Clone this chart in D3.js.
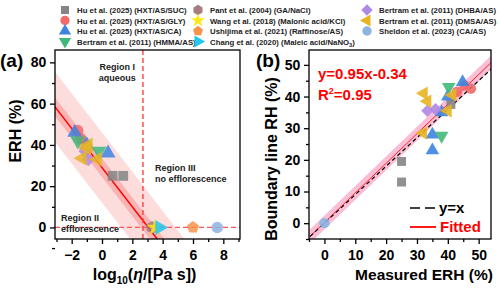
<!DOCTYPE html>
<html>
<head>
<meta charset="utf-8">
<script src="https://cdn.jsdelivr.net/npm/d3@7"></script>
<style>
  body { margin: 0; background: #fff; }
  text { font-family: "Liberation Sans", Arial, sans-serif; font-weight: bold; }
</style>
</head>
<body>
<div id="main"></div>
<script>
// series names / legend
const seriesNames = [
  'Hu et al. (2025) (HXT/AS/SUC)', 'Hu et al. (2025) (HXT/AS/GLY)', 'Hu et al. (2025) (HXT/AS/CA)',
  'Bertram et al. (2011) (HMMA/AS)', 'Pant et al. (2004) (GA/NaCl)', 'Wang et al. (2018) (Malonic acid/KCl)',
  'Ushijima et al. (2021) (Raffinose/AS)', 'Chang et al. (2020) (Maleic acid/NaNO', 'Bertram et al. (2011) (DHBA/AS)',
  'Bertram et al. (2011) (DMSA/AS)', 'Sheldon et al. (2023) (CA/AS)'
];
const seriesColors = ['#858585', '#f26a6a', '#3d84e0', '#3fb97a', '#a67c7c', '#ffe812',
  '#f7944c', '#22c6f0', '#b088e6', '#e8b425', '#8db3e2'];
const seriesShapes = ['square', 'circle', 'up', 'down', 'hexagon', 'star', 'pentagon', 'right', 'diamond', 'left', 'circle'];

// panel (a): log10 viscosity vs ERH, per series
const aX = [
  [0.7, 1.4], [-1.6, -1.4], [-1.8, -1.0, 0.4], [-1.6, -0.2], [3.3], [3.5], [6.0], [3.8],
  [-0.9, -1.1], [-1.3, -0.9, -0.3, -1.0], [7.6]
];
const aY = [
  [25, 25], [47, 43], [46, 40, 36], [42, 37], [0], [0], [0], [0],
  [33, 37], [33.5, 40, 33, 38.5], [0]
];
// panel (b): measured ERH vs boundary line RH
const bX = [
  [25, 25, 41], [45.5, 47.5, 43], [44.8, 40, 38, 35, 35], [40.3, 38], [], [], [], [],
  [33.4, 36], [32.2, 33.4, 32, 40, 41.5], [0]
];
const bY = [
  [19.5, 13, 37.5], [43.5, 42.5, 41.5], [44.6, 40, 35, 28, 23], [43, 27.6], [], [], [], [],
  [35.5, 36], [41, 38.5, 28.5, 35.5, 40.5], [0]
];

// fitted lines as drawn in the picture
const fitA = { slope: -9.5, intercept: 29 };
const fitAConf = 4.5, fitAPred = 17;
const fitB = { slope: 0.935, intercept: 0.2 };
const fitBConf = 2.2;
const refB = { slope: 0.9, intercept: 0 };

const aXTicks = [-2, 0, 2, 4, 6, 8];
const aYTicks = [0, 20, 40, 60, 80];
const bTicks = [0, 10, 20, 30, 40, 50];

const W = 500, H = 288;
const svg = d3.select('#main').append('svg').attr('width', W).attr('height', H);

function shapePath(shape, size) {
  const r = size;
  if (shape === 'square') return d3.symbol(d3.symbolSquare, r * r * 0.8)();
  if (shape === 'circle') return d3.symbol(d3.symbolCircle, r * r * 0.85)();
  if (shape === 'diamond') return d3.symbol(d3.symbolSquare, r * r * 0.8)();
  if (shape === 'star') return d3.symbol(d3.symbolStar, r * r * 0.75)();
  if (['up', 'down', 'left', 'right'].includes(shape)) return d3.symbol(d3.symbolTriangle, r * r * 0.8)();
  const n = shape === 'hexagon' ? 6 : 5;
  const rr = r * 0.58;
  const pts = d3.range(n).map(i => {
    const a = -Math.PI / 2 + i * 2 * Math.PI / n;
    return [rr * Math.cos(a), rr * Math.sin(a)];
  });
  return 'M' + pts.join('L') + 'Z';
}
const shapeRot = { down: 180, left: -90, right: 90, diamond: 45 };

function marker(g, i, x, y, size, op) {
  const s = seriesShapes[i];
  g.append('path')
    .attr('d', shapePath(s, size))
    .attr('transform', `translate(${x},${y}) rotate(${shapeRot[s] || 0})`)
    .attr('fill', seriesColors[i])
    .attr('opacity', op);
}

function axes(g, x, y, xt, yt, xMinor, yMinor, w, h) {
  const fmt = d => d < 0 ? '\u2212' + Math.abs(d) : d;
  const xa = g.append('g').attr('transform', `translate(0,${h})`)
    .call(d3.axisBottom(x).tickValues(xt).tickSize(5).tickSizeOuter(0).tickFormat(fmt));
  g.append('g').attr('transform', `translate(0,${h})`)
    .call(d3.axisBottom(x).tickValues(xMinor).tickSize(3).tickSizeOuter(0).tickFormat(''))
    .select('.domain').remove();
  const ya = g.append('g')
    .call(d3.axisLeft(y).tickValues(yt).tickSize(5).tickSizeOuter(0).tickFormat(fmt));
  g.append('g')
    .call(d3.axisLeft(y).tickValues(yMinor).tickSize(3).tickSizeOuter(0).tickFormat(''))
    .select('.domain').remove();
  g.selectAll('.tick line').attr('stroke', '#000').attr('stroke-width', 1.3);
  g.selectAll('.domain').remove();
  [xa, ya].forEach(a => a.selectAll('text').attr('font-size', 14).attr('fill', '#000')
    .style('font-family', '"Liberation Sans", Arial, sans-serif').style('font-weight', 'bold'));
  xa.selectAll('text').attr('dy', '0.9em');
  ya.selectAll('text').attr('dx', '-0.05em');
  g.append('rect').attr('width', w).attr('height', h)
    .attr('fill', 'none').attr('stroke', '#000').attr('stroke-width', 1.3);
}

// ---------------- panel (a)
const aL = 55, aT = 50, aW = 185, aH = 189;
const ga = svg.append('g').attr('transform', `translate(${aL},${aT})`);
const xa = d3.scaleLinear().domain([-3.1, 9.1]).range([0, aW]);
const ya = d3.scaleLinear().domain([-5.6, 86]).range([aH, 0]);
const clipA = svg.append('clipPath').attr('id', 'clipA');
clipA.append('rect').attr('width', aW).attr('height', aH);
const pa = ga.append('g').attr('clip-path', 'url(#clipA)');

const fa = v => fitA.slope * v + fitA.intercept;
const bandArea = (x, y, f, hw) => d3.area().x(d => x(d)).y0(d => y(f(d) - hw)).y1(d => y(f(d) + hw));
const aDom = xa.domain();
pa.append('path').datum(aDom).attr('d', bandArea(xa, ya, fa, fitAPred)).attr('fill', '#fdd6d6').attr('opacity', 0.85);
pa.append('path').datum(aDom).attr('d', bandArea(xa, ya, fa, fitAConf)).attr('fill', '#f9a9a9').attr('opacity', 0.8);
pa.append('line').attr('x1', xa(aDom[0])).attr('y1', ya(fa(aDom[0])))
  .attr('x2', xa(aDom[1])).attr('y2', ya(fa(aDom[1]))).attr('stroke', '#f00').attr('stroke-width', 1.5);
pa.append('line').attr('x1', 0).attr('x2', aW).attr('y1', ya(0)).attr('y2', ya(0))
  .attr('stroke', '#f55').attr('stroke-width', 1.3).attr('stroke-dasharray', '5,3');
pa.append('line').attr('x1', xa(2.7)).attr('x2', xa(2.7)).attr('y1', 0).attr('y2', aH)
  .attr('stroke', '#f33').attr('stroke-width', 1.3).attr('stroke-dasharray', '5,3');

aX.forEach((xs, i) => xs.forEach((v, j) => marker(pa, i, xa(v), ya(aY[i][j]), 11, 0.85)));

axes(ga, xa, ya, aXTicks, aYTicks, [-3, -1, 1, 3, 5, 7, 9], [-10, 10, 30, 50, 70], aW, aH);

const regText = (x, y, lines, anchor) => {
  const t = ga.append('text').attr('font-size', 9).attr('fill', '#222').attr('text-anchor', anchor || 'start');
  lines.forEach((s, k) => t.append('tspan').attr('x', x).attr('y', y + k * 11).text(s));
};
regText(xa(1.0), 20, ['Region I', 'aqueous'], 'middle');
regText(xa(3.5), 121, ['Region III', 'no efflorescence']);
regText(6, 171, ['Region II', 'efflorescence']);

// ---------------- panel (b)
const bL = 309, bT = 50, bW = 182, bH = 189;
const gb = svg.append('g').attr('transform', `translate(${bL},${bT})`);
const xb = d3.scaleLinear().domain([-5, 54]).range([0, bW]);
const yb = d3.scaleLinear().domain([-5, 54.7]).range([bH, 0]);
svg.append('clipPath').attr('id', 'clipB').append('rect').attr('width', bW).attr('height', bH);
const pb = gb.append('g').attr('clip-path', 'url(#clipB)');
const fb = v => fitB.slope * v + fitB.intercept;
const rb = v => refB.slope * v + refB.intercept;
const bDom = [-8, 60];
pb.append('path').datum(bDom).attr('d', bandArea(xb, yb, fb, fitBConf)).attr('fill', '#f9b4cf').attr('opacity', 0.85);
pb.append('line').attr('x1', xb(bDom[0])).attr('y1', yb(fb(bDom[0])))
  .attr('x2', xb(bDom[1])).attr('y2', yb(fb(bDom[1]))).attr('stroke', '#f22').attr('stroke-width', 1);
pb.append('line').attr('x1', xb(bDom[0])).attr('y1', yb(rb(bDom[0]))).attr('x2', xb(bDom[1])).attr('y2', yb(rb(bDom[1])))
  .attr('stroke', '#000').attr('stroke-width', 1.1).attr('stroke-dasharray', '4,3');

bX.forEach((xs, i) => xs.forEach((v, j) => marker(pb, i, xb(v), yb(bY[i][j]), 10, 0.9)));

axes(gb, xb, yb, bTicks, bTicks, [-5, 5, 15, 25, 35, 45], [-5, 5, 15, 25, 35, 45], bW, bH);

gb.append('text').attr('x', 9).attr('y', 29).attr('font-size', 15).attr('fill', '#f00').text('y=0.95x-0.34');
const r2 = gb.append('text').attr('x', 9).attr('y', 50).attr('font-size', 15).attr('fill', '#f00');
r2.append('tspan').text('R');
r2.append('tspan').attr('font-size', 9).attr('dy', -6).text('2');
r2.append('tspan').attr('dy', 6).text('=0.95');

// legend in b
gb.append('line').attr('x1', 101).attr('x2', 129).attr('y1', 158).attr('y2', 158)
  .attr('stroke', '#000').attr('stroke-width', 1.5).attr('stroke-dasharray', '10,5');
gb.append('text').attr('x', 130).attr('y', 163).attr('font-size', 15).attr('fill', '#000').text('y=x');
gb.append('line').attr('x1', 101).attr('x2', 127).attr('y1', 177).attr('y2', 177)
  .attr('stroke', '#f00').attr('stroke-width', 1.8);
gb.append('text').attr('x', 131).attr('y', 182).attr('font-size', 15).attr('fill', '#f00').text('Fitted');

// ---------------- titles
svg.append('text').attr('x', 0).attr('y', 67).attr('font-size', 19).text('(a)');
svg.append('text').attr('x', 256).attr('y', 67).attr('font-size', 19).text('(b)');

svg.append('text').attr('transform', 'translate(21,131) rotate(-90)')
  .attr('text-anchor', 'middle').attr('font-size', 16).text('ERH (%)');
const xt = svg.append('text').attr('x', aL + aW / 2 - 3).attr('y', 280).attr('text-anchor', 'middle').attr('font-size', 16);
xt.append('tspan').text('log');
xt.append('tspan').attr('font-size', 10).attr('dy', 4).text('10');
xt.append('tspan').attr('dy', -4).text('(');
xt.append('tspan').attr('font-style', 'italic').text('\u03b7');
xt.append('tspan').text('/[Pa s])');

svg.append('text').attr('transform', 'translate(277,159) rotate(-90)')
  .attr('text-anchor', 'middle').attr('font-size', 16).text('Boundary line RH (%)');
svg.append('text').attr('x', 424).attr('y', 280).attr('text-anchor', 'middle')
  .attr('font-size', 15.5).text('Measured ERH (%)');

// ---------------- top legend
const legCols = [[65, 77], [198, 210], [367, 379]];
const legRows = [10, 20.5, 31, 41.5];
seriesNames.forEach((name, i) => {
  const c = Math.floor(i / 4), r = i % 4;
  const [mx, tx] = legCols[c];
  const y = legRows[r];
  marker(svg, i, mx, y, 9, 1);
  const t = svg.append('text').attr('x', tx).attr('y', y + 3).attr('font-size', 7.8).attr('fill', '#222').text(name);
  if (i === 7) {
    t.append('tspan').attr('font-size', 5.5).attr('dy', 2).text('3');
    t.append('tspan').attr('dy', -2).text(')');
  }
});
</script>
</body>
</html>
